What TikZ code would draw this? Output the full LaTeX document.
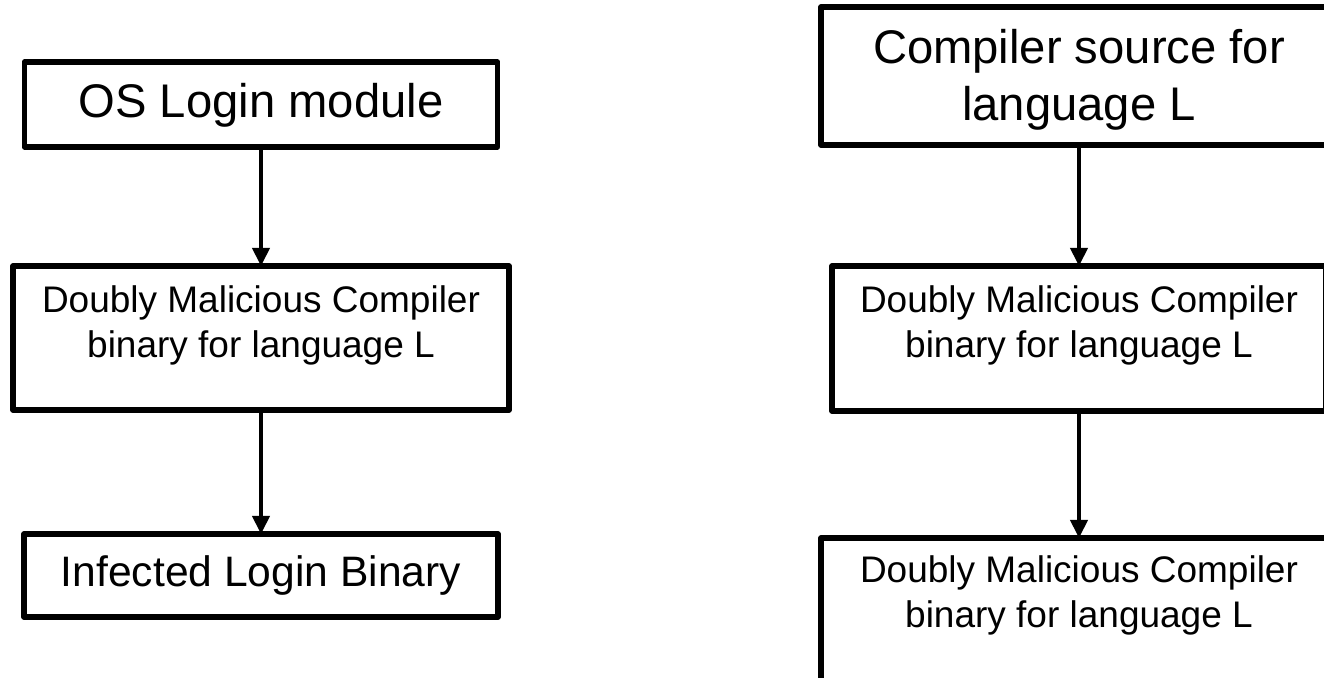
\documentclass[tikz,border=0pt]{standalone}
\usepackage{fontspec}
\setmainfont{Liberation Sans}
\usetikzlibrary{arrows.meta}
\begin{document}
\begin{tikzpicture}[x=0.5pt,y=-0.5pt,
  box/.style={draw=black, line width=2.8pt, line join=round, fill=white,
    inner sep=0pt, outer sep=0pt},
  flow/.style={line width=2pt, -{Triangle[length=9pt,width=8.5pt]}},
  big/.style={font=\fontsize{23.6pt}{28.5pt}\selectfont, align=center, anchor=base, inner sep=0pt},
  small/.style={font=\fontsize{18.5pt}{22.5pt}\selectfont, align=center, anchor=base, inner sep=0pt}]
  \useasboundingbox (0,0) rectangle (1324,678);

  % left column: login module path
  \node[box, minimum width=236.5pt, minimum height=42.5pt] (l1) at (261,104.5) {};
  \node[box, minimum width=248pt, minimum height=72pt] (l2) at (261,338) {};
  \node[box, minimum width=237pt, minimum height=41.5pt] (l3) at (261,575.5) {};
  \node[big] (l1t) at (261,118) {OS Login module};
  % base anchor of a multi-line node sits on its last line
  \node[small] (l2t) at (261,358) {Doubly Malicious Compiler\\binary for language L};
  \node[big, font=\fontsize{21.3pt}{26pt}\selectfont] (l3t) at (261,587) {Infected Login Binary};

  % right column: compiler source path
  \node[box, minimum width=258pt, minimum height=69pt] (r1) at (1079,76) {};
  \node[box, minimum width=247pt, minimum height=72.5pt] (r2) at (1079,338.5) {};
  \node[box, minimum width=258pt, minimum height=72.5pt] (r3) at (1079,610.5) {};
  \node[big] (r1t) at (1079,121) {Compiler source for\\language L};
  \node[small] (r2t) at (1079,358) {Doubly Malicious Compiler\\binary for language L};
  \node[small] (r3t) at (1079,628) {Doubly Malicious Compiler\\binary for language L};

  % connectors
  \draw[flow] (l1.south) -- (l2.north);
  \draw[flow] (l2.south) -- (l3.north);
  \draw[flow] (r1.south) -- (r2.north);
  \draw[flow] (r2.south) -- (r3.north);
\end{tikzpicture}
\end{document}
